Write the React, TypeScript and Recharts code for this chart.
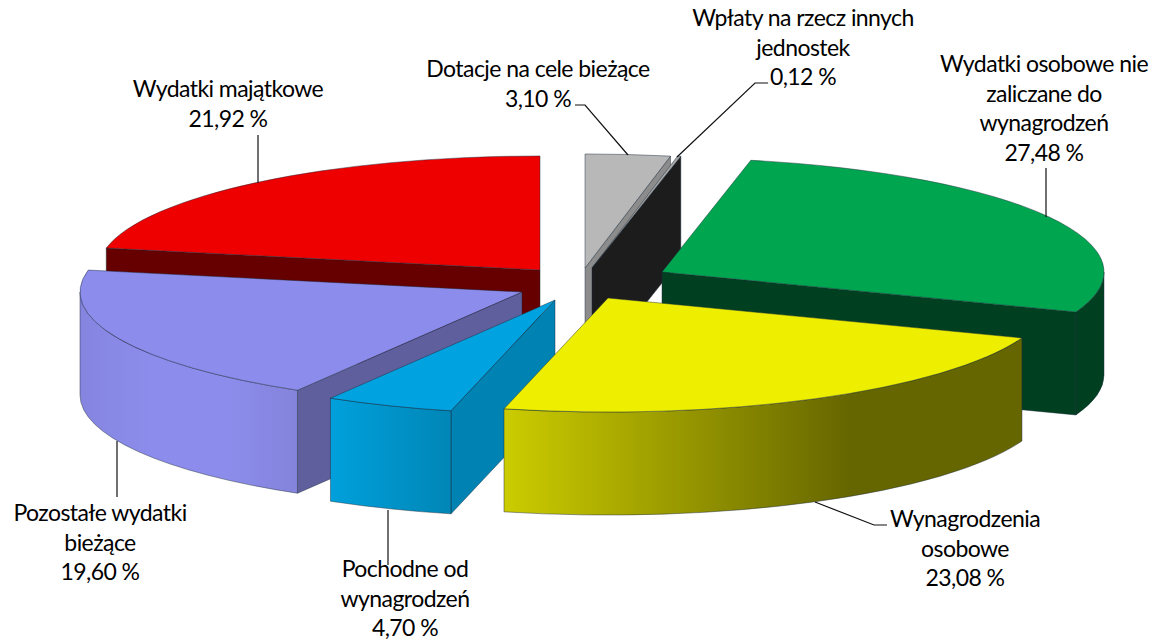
import { PieChart, Pie } from 'recharts'

const names = [
  'Dotacje na cele bieżące',
  'Wpłaty na rzecz innych jednostek',
  'Wydatki osobowe nie zaliczane do wynagrodzeń',
  'Wynagrodzenia osobowe',
  'Pochodne od wynagrodzeń',
  'Pozostałe wydatki bieżące',
  'Wydatki majątkowe',
]
const values = [3.1, 0.12, 27.48, 23.08, 4.7, 19.6, 21.92]

const rows = names.map((name, i) => ({ name, value: values[i] }))

// back to front, the order the slices have to be painted in
const paintOrder = [6, 0, 1, 2, 5, 4, 3]

const TILT = 0.258
const DEPTH = 103

const explode = [
  [7, -12],
  [14, -12],
  [84, -8],
  [30, 18],
  [-23, 20],
  [-56, 12],
  [-38, -10],
]

const topFill = ['#b8b8b8', '#a6a6a6', '#00a64f', '#eeee00', '#00a3e0', '#8c8cec', '#ee0000']
const faceFill = ['#8c8c8c', '#1c1c1c', '#004021', '#666600', '#0083b3', '#5f5f9e', '#660000']
const wallStops = [
  ['#8c8c8c', '#8c8c8c'],
  ['#1c1c1c', '#1c1c1c'],
  ['#004021', '#004021'],
  ['#cccc00', '#999900', '#666600', '#666600'],
  ['#00a0dc', '#0086b6'],
  ['#8585e0', '#8c8cec', '#8c8cec', '#8484dc'],
  ['#660000', '#660000'],
]

const labelLines = [
  ['Dotacje na cele bieżące'],
  ['Wpłaty na rzecz innych', 'jednostek'],
  ['Wydatki osobowe nie', 'zaliczane do', 'wynagrodzeń'],
  ['Wynagrodzenia', 'osobowe'],
  ['Pochodne od', 'wynagrodzeń'],
  ['Pozostałe wydatki', 'bieżące'],
  ['Wydatki majątkowe'],
]
const labelAt = [
  [538, 77],
  [803, 26],
  [1044, 72],
  [965, 527],
  [405, 577],
  [100, 521],
  [228, 97],
]
const leaders = [
  '575,105 585,105 628,155',
  '768,83 755,83 677,157',
  '1046,168 1046,217',
  '887,525 874,525 815,502',
  '388,510 388,565',
  '117,441 117,497',
  '258,135 258,183',
]

const OUTLINE = { stroke: '#1a2a3a', strokeOpacity: 0.65, strokeWidth: 0.7, strokeLinejoin: 'round' as const }

function Slice3D(props: any) {
  const { cx, cy, outerRadius, startAngle, endAngle, index } = props
  const i = names.indexOf(props.name)
  const x0 = cx + explode[i][0]
  const y0 = cy + explode[i][1]
  const rx = outerRadius
  const ry = outerRadius * TILT

  // angles clockwise from 12 o'clock
  const a = 90 - startAngle
  const b = 90 - endAngle
  const pt = (deg: number, dy = 0) => {
    const t = (deg * Math.PI) / 180
    return `${x0 + rx * Math.sin(t)},${y0 - ry * Math.cos(t) + dy}`
  }
  const sin = (deg: number) => Math.sin((deg * Math.PI) / 180)
  const face = (deg: number) =>
    `M${x0},${y0} L${pt(deg)} L${pt(deg, DEPTH)} L${x0},${y0 + DEPTH} Z`

  const wa = Math.max(a, 90)
  const wb = Math.min(b, 270)
  const gradId = `wall-${i}-${index}`
  const stops = wallStops[i]

  return (
    <g>
      <defs>
        <linearGradient id={gradId} x1="0" y1="0" x2="1" y2="0">
          {stops.map((c, k) => (
            <stop key={k} offset={k / (stops.length - 1)} stopColor={c} />
          ))}
        </linearGradient>
      </defs>
      {sin(a) < 0 && <path d={face(a)} fill={faceFill[i]} {...OUTLINE} />}
      {sin(b) > 0 && <path d={face(b)} fill={faceFill[i]} {...OUTLINE} />}
      {wb > wa && (
        <path
          d={`M${pt(wa)} A${rx},${ry} 0 0 1 ${pt(wb)} L${pt(wb, DEPTH)} A${rx},${ry} 0 0 0 ${pt(wa, DEPTH)} Z`}
          fill={`url(#${gradId})`}
          {...OUTLINE}
        />
      )}
      <path
        d={`M${x0},${y0} L${pt(a)} A${rx},${ry} 0 0 1 ${pt(b)} Z`}
        fill={topFill[i]}
        {...OUTLINE}
      />
    </g>
  )
}

function SliceLabel(props: any) {
  const i = names.indexOf(props.name)
  const [x, y] = labelAt[i]
  const lines = [...labelLines[i], `${values[i].toFixed(2).replace('.', ',')} %`]
  return (
    <text
      x={x}
      y={y}
      textAnchor="middle"
      fill="#000"
      fontFamily="Lato, sans-serif"
      fontSize={23}
      letterSpacing={-0.56}
    >
      {lines.map((line, k) => (
        <tspan key={k} x={x} dy={k === 0 ? 0 : 29.7}>
          {line}
        </tspan>
      ))}
    </text>
  )
}

function LeaderLine(props: any) {
  const i = names.indexOf(props.name)
  return <polyline points={leaders[i]} fill="none" stroke="#111" strokeWidth={1.2} />
}

export default function App() {
  return (
    <div style={{ position: 'absolute', left: 0, top: 0, width: 1156, height: 642, background: '#fff' }}>
      <PieChart width={1156} height={642} margin={{ top: 0, right: 0, bottom: 0, left: 0 }}>
        {paintOrder.map((idx) => (
          <Pie
            key={idx}
            data={rows}
            dataKey="value"
            nameKey="name"
            cx={578}
            cy={280}
            outerRadius={442}
            startAngle={90}
            endAngle={-270}
            stroke="none"
            isAnimationActive={false}
            shape={(p: any) => (p.name === names[idx] ? <Slice3D {...p} /> : <g />)}
          />
        ))}
        <Pie
          data={rows}
          dataKey="value"
          nameKey="name"
          cx={578}
          cy={280}
          outerRadius={442}
          startAngle={90}
          endAngle={-270}
          isAnimationActive={false}
          shape={() => <g />}
          label={(p: any) => <SliceLabel {...p} />}
          labelLine={(p: any) => <LeaderLine {...p} />}
        />
      </PieChart>
    </div>
  )
}
